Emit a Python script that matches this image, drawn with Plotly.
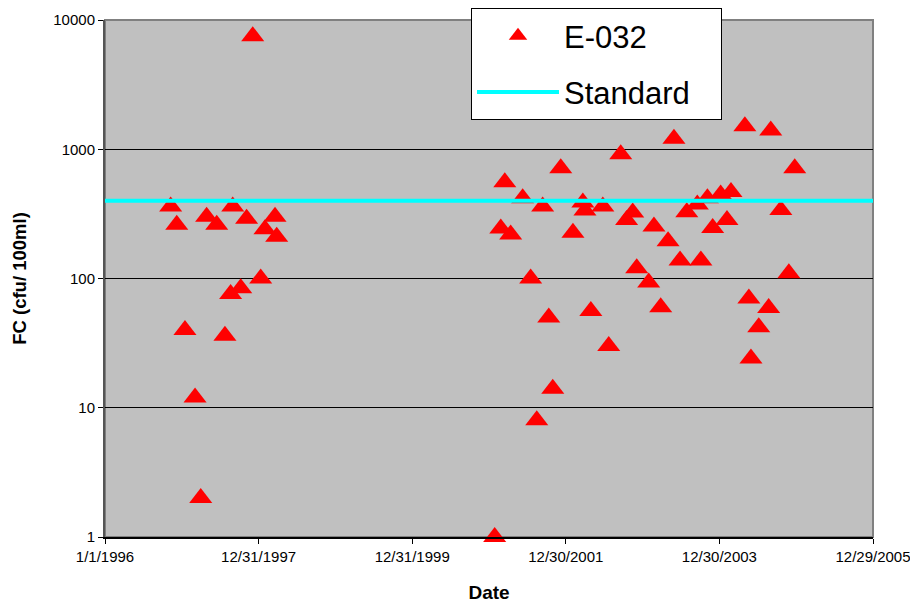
import plotly.graph_objects as go

# E-032 samples
dates = [
    "1996-11-08", "1996-12-07", "1997-01-15", "1997-03-04", "1997-03-31",
    "1997-04-28", "1997-06-15", "1997-07-24", "1997-08-20", "1997-08-30",
    "1997-10-07", "1997-11-04", "1997-12-03", "1998-01-10", "1998-01-30",
    "1998-03-19", "1998-03-27",
    "2001-01-26", "2001-02-24", "2001-03-15", "2001-04-12", "2001-06-08",
    "2001-07-16", "2001-08-14", "2001-09-11", "2001-10-10", "2001-10-29",
    "2001-12-06", "2002-02-02", "2002-03-21", "2002-03-31", "2002-04-28",
    "2002-06-24", "2002-07-22", "2002-09-17", "2002-10-15", "2002-11-13",
    "2002-12-02", "2003-01-28", "2003-02-22", "2003-03-26", "2003-04-30",
    "2003-05-28", "2003-06-26", "2003-07-28", "2003-09-16", "2003-10-03",
    "2003-11-03", "2003-11-28", "2004-01-05", "2004-02-04", "2004-02-23",
    "2004-04-29", "2004-05-18", "2004-05-28", "2004-07-04", "2004-08-20",
    "2004-08-30", "2004-10-17", "2004-11-24", "2004-12-22",
]
fc_values = [
    360, 260, 40, 12, 2,
    300, 260, 36, 76, 360,
    84, 290, 7500, 100, 240,
    300, 210,
    1, 244, 556, 219, 417,
    100, 8, 360, 50, 14,
    713, 226, 387, 336, 56,
    360, 30, 916, 284, 324,
    120, 93, 252, 60, 194,
    1205, 138, 326, 374, 138,
    417, 246, 447, 284, 466,
    1506, 70, 24, 42, 59,
    1395, 339, 110, 713,
]

standard_dates = ["1996-01-01", "2005-12-29"]
standard_values = [400, 400]

x_tick_vals = ["1996-01-01", "1997-12-31", "1999-12-31", "2001-12-30", "2003-12-30", "2005-12-29"]
x_tick_text = ["1/1/1996", "12/31/1997", "12/31/1999", "12/30/2001", "12/30/2003", "12/29/2005"]
y_tick_vals = [1, 10, 100, 1000, 10000]
y_tick_text = ["1", "10", "100", "1000", "10000"]

FONT = "Liberation Sans, Arial, sans-serif"
PAD = "\u00a0\u00a0\u00a0"  # widen the legend box like the reference

fig = go.Figure()
fig.add_trace(go.Scatter(
    x=dates, y=fc_values, mode="markers", name="E-032",
    marker=dict(symbol="triangle-up", size=20, color="#FF0000", line=dict(width=0)),
    cliponaxis=False, legendgroup="a",
))
fig.add_trace(go.Scatter(
    x=standard_dates, y=standard_values, mode="lines", name="Standard" + PAD,
    line=dict(color="#00FFFF", width=4), legendgroup="b", cliponaxis=False,
))

# the page body adds an 8px offset, so the figure is 8px smaller and shifted
fig.update_layout(
    width=910, height=596,
    margin=dict(l=97, r=45, t=12, b=67, autoexpand=False),
    paper_bgcolor="white", plot_bgcolor="#C0C0C0",
    font=dict(family=FONT, color="black", size=15),
    showlegend=True,
    legend=dict(
        x=(471 - 105) / 768, y=1 + 12 / 517, xanchor="left", yanchor="top",
        bgcolor="white", bordercolor="black", borderwidth=1,
        font=dict(size=31, family=FONT, color="black"),
        tracegroupgap=13, traceorder="grouped", itemwidth=82,
    ),
    xaxis=dict(
        type="date", range=["1996-01-01", "2005-12-29"],
        tickmode="array", tickvals=x_tick_vals, ticktext=x_tick_text,
        ticks="outside", ticklen=5, tickcolor="black", tickwidth=1,
        showgrid=False, zeroline=False,
        showline=True, linecolor="black", linewidth=2,
        tickfont=dict(size=15), automargin=False,
        title=dict(text="<b>Date</b>", font=dict(size=19), standoff=22),
    ),
    yaxis=dict(
        type="log", range=[0, 4],
        tickmode="array", tickvals=y_tick_vals, ticktext=y_tick_text,
        ticks="outside", ticklen=5, tickcolor="black", tickwidth=1,
        showgrid=True, gridcolor="black", gridwidth=1,
        zeroline=False, showline=True, linecolor="#555555", linewidth=2,
        tickfont=dict(size=15), automargin=False,
        title=dict(text="<b>FC (cfu/ 100ml)</b>", font=dict(size=18.5), standoff=22),
    ),
    shapes=[dict(type="rect", xref="paper", yref="paper", x0=0, y0=0, x1=1, y1=1,
                 line=dict(color="#808080", width=2), layer="below")],
)

fig.write_html("out.html")
